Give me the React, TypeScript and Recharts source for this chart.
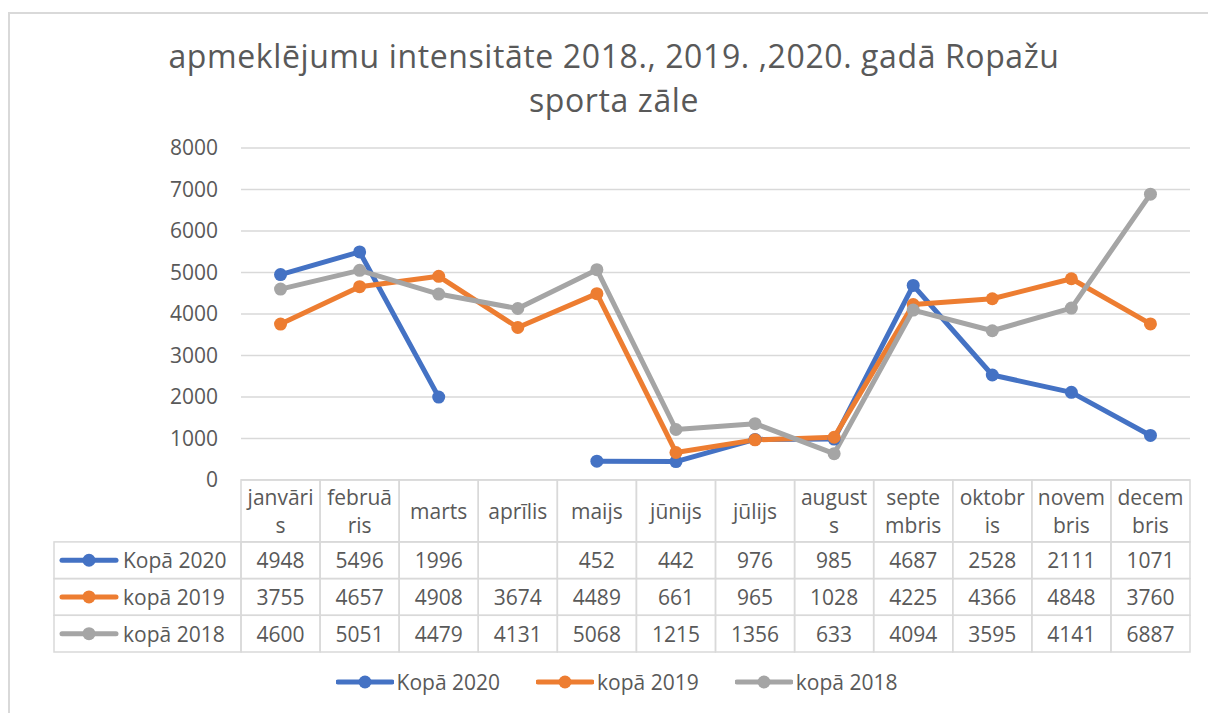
import React from 'react';
import { LineChart, Line, XAxis, YAxis, CartesianGrid, Legend } from 'recharts';

const months = ['janvāris', 'februāris', 'marts', 'aprīlis', 'maijs', 'jūnijs', 'jūlijs', 'augusts', 'septembris', 'oktobris', 'novembris', 'decembris'];
// header text as Excel wrapped it inside the data table
const monthHeader = [
  ['janvāri', 's'], ['februā', 'ris'], ['marts'], ['aprīlis'], ['maijs'], ['jūnijs'],
  ['jūlijs'], ['august', 's'], ['septe', 'mbris'], ['oktobr', 'is'], ['novem', 'bris'], ['decem', 'bris'],
];
const kopa2020 = [4948, 5496, 1996, null, 452, 442, 976, 985, 4687, 2528, 2111, 1071];
const kopa2019 = [3755, 4657, 4908, 3674, 4489, 661, 965, 1028, 4225, 4366, 4848, 3760];
const kopa2018 = [4600, 5051, 4479, 4131, 5068, 1215, 1356, 633, 4094, 3595, 4141, 6887];
const yTicks = [0, 1000, 2000, 3000, 4000, 5000, 6000, 7000, 8000];

const series = [
  { key: 'k2020', name: 'Kopā 2020', color: '#4472C4', values: kopa2020 },
  { key: 'k2019', name: 'kopā 2019', color: '#ED7D31', values: kopa2019 },
  { key: 'k2018', name: 'kopā 2018', color: '#A5A5A5', values: kopa2018 },
];

const data = months.map((m, i) => ({
  month: m,
  k2020: kopa2020[i],
  k2019: kopa2019[i],
  k2018: kopa2018[i],
}));

const W = 1208;
const H = 713;
const PLOT_LEFT = 241;
const PLOT_RIGHT = 1190;
const COL = (PLOT_RIGHT - PLOT_LEFT) / months.length;
const HEADER_H = 62;
const ROW_H = 36.7;
const TABLE_H = HEADER_H + ROW_H * 3;
const GRID = '#d9d9d9';
const TXT = '#595959';
const FS = 21;

const KeyIcon = ({ x, y, color }: { x: number; y: number; color: string }) => (
  <g>
    <line x1={x} x2={x + 54} y1={y} y2={y} stroke={color} strokeWidth={5} strokeLinecap="round" />
    <circle cx={x + 27} cy={y} r={6.5} fill={color} />
  </g>
);

// the data table under the plot, one column per category tick
const TableTick = (props: any) => {
  const { x, y, payload } = props;
  const i = payload.index;
  const left = x - COL / 2;
  const lines = monthHeader[i];
  const hy = y + HEADER_H / 2;
  return (
    <g>
      <rect x={left} y={y} width={COL} height={HEADER_H} fill="none" stroke={GRID} strokeWidth={1.5} />
      {lines.map((t, k) => (
        <text
          key={k}
          x={x}
          y={lines.length === 1 ? hy : hy + (k === 0 ? -14 : 14)}
          textAnchor="middle"
          dominantBaseline="central"
          fontSize={FS}
          fill={TXT}
        >
          {t}
        </text>
      ))}
      {series.map((s, r) => {
        const top = y + HEADER_H + r * ROW_H;
        const v = s.values[i];
        return (
          <g key={s.key}>
            <rect x={left} y={top} width={COL} height={ROW_H} fill="none" stroke={GRID} strokeWidth={1.5} />
            <text x={x} y={top + ROW_H / 2} textAnchor="middle" dominantBaseline="central" fontSize={FS} fill={TXT}>
              {v == null ? '' : v}
            </text>
          </g>
        );
      })}
      {i === 0 &&
        series.map((s, r) => {
          const top = y + HEADER_H + r * ROW_H;
          return (
            <g key={'lab' + s.key}>
              <rect x={54} y={top} width={left - 54} height={ROW_H} fill="none" stroke={GRID} strokeWidth={1.5} />
              <KeyIcon x={62} y={top + ROW_H / 2} color={s.color} />
              <text x={123} y={top + ROW_H / 2} dominantBaseline="central" fontSize={FS} fill={TXT}>
                {s.name}
              </text>
            </g>
          );
        })}
    </g>
  );
};

const LegendContent = () => (
  <div style={{ display: 'flex', justifyContent: 'center', alignItems: 'center', height: 60, paddingLeft: 25, gap: 36 }}>
    {series.map((s) => (
      <div key={s.key} style={{ display: 'flex', alignItems: 'center' }}>
        <svg width={58} height={14}>
          <KeyIcon x={2} y={7} color={s.color} />
        </svg>
        <span style={{ marginLeft: 3, fontSize: FS, color: TXT }}>{s.name}</span>
      </div>
    ))}
  </div>
);

export default function App() {
  return (
    <div
      style={{
        position: 'absolute',
        left: 0,
        top: 0,
        width: W,
        height: H,
        overflow: 'hidden',
        background: '#fff',
        fontFamily: '"Open Sans", sans-serif',
      }}
    >
      <LineChart width={W} height={H} data={data} margin={{ top: 148, right: W - PLOT_RIGHT, left: 0, bottom: 1 }}>
        <CartesianGrid vertical={false} stroke={GRID} strokeWidth={1.5} />
        <XAxis
          dataKey="month"
          interval={0}
          height={TABLE_H}
          axisLine={false}
          tickLine={false}
          tickSize={0}
          tickMargin={0}
          padding={{ left: COL / 2, right: COL / 2 }}
          tick={<TableTick />}
        />
        <YAxis
          width={PLOT_LEFT}
          domain={[0, 8000]}
          ticks={yTicks}
          axisLine={false}
          tickLine={false}
          tickSize={0}
          tickMargin={23}
          tick={{ fill: TXT, fontSize: FS }}
        />
        {series.map((s) => (
          <Line
            key={s.key}
            type="linear"
            dataKey={s.key}
            name={s.name}
            stroke={s.color}
            strokeWidth={5}
            strokeLinecap="round"
            strokeLinejoin="round"
            dot={{ r: 6.5, fill: s.color, stroke: s.color, strokeWidth: 0 }}
            activeDot={false}
            isAnimationActive={false}
          />
        ))}
        <Legend verticalAlign="bottom" content={<LegendContent />} wrapperStyle={{ left: 0, width: W }} />
      </LineChart>
      <div
        style={{
          position: 'absolute',
          left: 8,
          top: 12,
          width: W + 50,
          height: H + 50,
          border: `2px solid ${GRID}`,
          pointerEvents: 'none',
        }}
      />
      <div
        style={{
          position: 'absolute',
          left: 10,
          top: 34,
          width: W,
          textAlign: 'center',
          fontSize: 32,
          lineHeight: '44px',
          letterSpacing: 0.6,
          color: TXT,
          whiteSpace: 'nowrap',
        }}
      >
        apmeklējumu intensitāte 2018., 2019. ,2020. gadā Ropažu
        <br />
        sporta zāle
      </div>
    </div>
  );
}
